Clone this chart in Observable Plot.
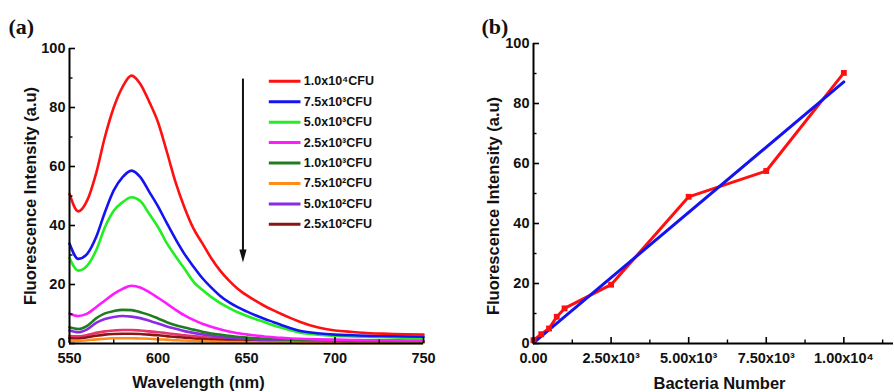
<!DOCTYPE html>
<html><head><meta charset="utf-8">
<script src="https://cdn.jsdelivr.net/npm/d3@7"></script>
<script src="https://cdn.jsdelivr.net/npm/@observablehq/plot@0.6"></script>
<style>
html,body{margin:0;padding:0;background:#fff;}
#wrap{position:relative;width:894px;height:392px;overflow:hidden;background:#fff;}
#wrap svg{position:absolute;top:0;overflow:visible;}
</style></head>
<body><div id="wrap"></div>
<script>
// ---------- Panel (a): spectra ----------
const wavelength = [550,555,560,565,570,575,580,585,590,595,600,605,610,615,620,625,630,635,640,645,650,655,660,665,670,675,680,690,700,710,720,730,740,750];
const cfu1e4  = [50.7,44.8,48.5,57.6,70,80,87,90.8,88,82,75,65,54.5,46,39,34,29,24.8,21.4,18.6,16.4,14.5,12.8,11.3,9.9,8.6,7.4,5.5,4.4,3.9,3.5,3.3,3.1,3];
const cfu75e3 = [33.9,28.7,30.4,36,44.5,51.9,56.4,58.6,56.4,51.5,46.5,40.8,35.3,30.3,26.1,22.2,19,16.2,14,12.3,10.9,9.6,8.4,7.3,6.2,5.2,4.3,3.5,3,2.8,2.6,2.5,2.4,2.3];
const cfu5e3  = [29,24.7,26.4,31.5,39.4,45,47.9,49.6,48.3,44,39.5,34,29.5,25.3,21,18.2,15.8,13.8,12.1,10.6,9.4,8.3,7.3,6.2,5.3,4.5,3.7,3,2.6,2.4,2.2,2.1,2,2];
const cfu25e3 = [10.1,9.3,10.1,12.3,14.6,16.8,18.5,19.6,19,17.4,15.5,13.5,11.4,9.5,8,6.7,5.7,4.8,4.1,3.5,3.1,2.7,2.4,2.1,1.9,1.7,1.6,1.4,1.3,1.2,1.1,1.1,1,1];
const cfu1e3  = [5.5,4.9,6,8.5,10.2,11,11.4,11.3,10.6,9.7,8.5,7.2,6.2,5.4,4.7,4,3.4,3,2.6,2.3,2,1.8,1.6,1.5,1.4,1.3,1.2,1.1,1,0.9,0.9,0.8,0.8,0.8];
const cfu75e2 = [0.9,0.9,1.1,1.4,1.6,1.8,1.8,1.8,1.7,1.6,1.4,1.3,1.1,1,0.9,0.8,0.7,0.6,0.5,0.5,0.4,0.4,0.3,0.3,0.3,0.3,0.2,0.2,0.2,0.2,0.2,0.2,0.2,0.2];
const cfu5e2  = [4.4,3.8,4.8,7,8.3,9,9.3,9.1,8.6,7.7,6.8,5.8,5,4.2,3.6,3.1,2.7,2.3,2,1.8,1.6,1.4,1.3,1.2,1.1,1,1,0.9,0.8,0.7,0.7,0.6,0.6,0.6];
const cfu25e2 = [1.8,1.7,2.1,2.6,3,3.2,3.3,3.3,3.2,3,2.8,2.5,2.2,2,1.7,1.5,1.3,1.2,1.1,1,0.9,0.8,0.8,0.7,0.7,0.6,0.6,0.5,0.5,0.4,0.4,0.4,0.4,0.4];
const unlabeledCurve = [2.5,2.4,2.9,3.6,4.1,4.4,4.6,4.6,4.4,4.1,3.8,3.5,3.1,2.8,2.5,2.2,1.9,1.7,1.5,1.3,1.2,1.1,1,0.9,0.9,0.8,0.8,0.7,0.6,0.6,0.5,0.5,0.5,0.5];

const seriesLabels = ["1.0x10⁴CFU","7.5x10³CFU","5.0x10³CFU","2.5x10³CFU","1.0x10³CFU","7.5x10²CFU","5.0x10²CFU","2.5x10²CFU"];
const seriesValues = [cfu1e4, cfu75e3, cfu5e3, cfu25e3, cfu1e3, cfu75e2, cfu5e2, cfu25e2];
const seriesColors = ["#ff1010","#1414f0","#22ee22","#ff1aff","#1f7d1f","#ff8c1a","#8c2be6","#8b1414"];
const unlabeledColor = "#e8336b";

const wlTicks = [550,600,650,700,750];
const wlMinor = [575,625,675,725];
const yTicks = [0,20,40,60,80,100];
const yMinor = [10,30,50,70,90];

// ---------- Panel (b): calibration ----------
const bacteria = [0,250,500,750,1000,2500,5000,7500,10000];
const intensity = [1.1,3.1,5.0,8.9,11.7,19.6,48.9,57.5,90.2];
const fitBacteria = [0,10000];
const fitIntensity = [0.2,87.2];
const bTicks = [0,2500,5000,7500,10000];
const bTickLabels = ["0.00","2.50x10³","5.00x10³","7.50x10³","1.00x10⁴"];
const bMinor = [1250,3750,6250,8750,11250];

// ---------- shared style ----------
const FONT = "'Liberation Sans', Arial, Helvetica, sans-serif";
const SERIF = "'Liberation Serif', 'Times New Roman', serif";
const tickFont = {fontSize: 14.5, fontWeight: "bold", fontFamily: FONT, fill: "#111"};
const titleFont = {fontSize: 16.5, fontWeight: "bold", fontFamily: FONT, fill: "#111", lineAnchor: "middle", textAnchor: "middle"};
const panelFont = {fontSize: 22, fontWeight: "bold", fontFamily: SERIF, fill: "#111", lineAnchor: "middle", textAnchor: "start"};

function toRows(xs, ys) { return xs.map((x, i) => ({x, y: ys[i]})); }

// ---------- Left plot ----------
const L = {w: 450, h: 392, ml: 69, mr: 27, mt: 48, mb: 49};
const LfW = L.w - L.ml - L.mr, LfH = L.h - L.mt - L.mb;

const legendRows = seriesLabels.map((label, i) => ({label, color: seriesColors[i], y: 88.9 - i * 6.93}));
const arrowHead = {draw(ctx) { ctx.moveTo(0, 0); ctx.lineTo(-3.6, -13); ctx.lineTo(3.6, -13); ctx.closePath(); }};

const leftMarks = [
  Plot.axisY({ticks: yTicks, tickSize: 0, tickPadding: 4, label: null, ...tickFont}),
  Plot.axisX({ticks: wlTicks, tickSize: 0, tickPadding: 9, label: null, ...tickFont}),
  Plot.line(toRows(wavelength, unlabeledCurve), {x: "x", y: "y", stroke: unlabeledColor, strokeWidth: 2.6, curve: "monotone-x"})
];
for (let i = seriesValues.length - 1; i >= 0; i--) {
  leftMarks.push(Plot.line(toRows(wavelength, seriesValues[i]), {x: "x", y: "y", stroke: seriesColors[i], strokeWidth: 2.6, curve: "monotone-x"}));
}
leftMarks.push(
  Plot.ruleY(yTicks, {strokeWidth: 1.6, insetRight: LfW - 6}),
  Plot.ruleY(yMinor, {strokeWidth: 1.4, insetRight: LfW - 3.5}),
  Plot.ruleX(wlTicks, {strokeWidth: 1.6, insetTop: LfH - 6}),
  Plot.ruleX(wlMinor, {strokeWidth: 1.4, insetTop: LfH - 3.5}),
  Plot.ruleX([550], {strokeWidth: 2}),
  Plot.ruleY([0], {strokeWidth: 2}),
  // legend
  Plot.link(legendRows, {x1: 662.6, x2: 680.5, y1: "y", y2: "y", stroke: "color", strokeWidth: 3}),
  Plot.text(legendRows, {x: 682.4, y: "y", text: "label", textAnchor: "start", fontSize: 12.5, fontWeight: "bold", fontFamily: FONT, fill: "#111"}),
  // arrow
  Plot.link([{x: 648, y1: 89.8, y2: 31}], {x1: "x", x2: "x", y1: "y1", y2: "y2", stroke: "#111", strokeWidth: 2}),
  Plot.dot([{x: 648, y: 27.5}], {x: "x", y: "y", symbol: arrowHead, r: 4, fill: "#111", stroke: null}),
  // titles
  Plot.text(["Fluorescence Intensity (a.u)"], {text: d => d, frameAnchor: "left", dx: -39, rotate: -90, ...titleFont}),
  Plot.text(["Wavelength (nm)"], {text: d => d, frameAnchor: "bottom", dx: -48, dy: 39, ...titleFont}),
  Plot.text(["(a)"], {text: d => d, frameAnchor: "top-left", dx: -61, dy: -22, ...panelFont})
);

const leftPlot = Plot.plot({
  width: L.w, height: L.h,
  marginLeft: L.ml, marginRight: L.mr, marginTop: L.mt, marginBottom: L.mb,
  x: {domain: [550, 750]},
  y: {domain: [0, 100]},
  style: {fontFamily: FONT, background: "transparent", overflow: "visible"},
  marks: leftMarks
});

// ---------- Right plot ----------
const R = {w: 454, h: 392, ml: 93, mr: 1, mt: 43, mb: 49};
const RfW = R.w - R.ml - R.mr, RfH = R.h - R.mt - R.mb;
const rightPlot = Plot.plot({
  width: R.w, height: R.h,
  marginLeft: R.ml, marginRight: R.mr, marginTop: R.mt, marginBottom: R.mb,
  x: {domain: [0, 11600]},
  y: {domain: [0, 100]},
  style: {fontFamily: FONT, background: "transparent", overflow: "visible"},
  marks: [
    Plot.axisY({ticks: yTicks, tickSize: 0, tickPadding: 4, label: null, ...tickFont}),
    Plot.axisX({ticks: bTicks, tickFormat: d => bTickLabels[bTicks.indexOf(d)], tickSize: 0, tickPadding: 9, label: null, ...tickFont}),
    Plot.line(toRows(bacteria, intensity), {x: "x", y: "y", stroke: "#ff1010", strokeWidth: 3}),
    Plot.line(toRows(fitBacteria, fitIntensity), {x: "x", y: "y", stroke: "#1414f0", strokeWidth: 3}),
    Plot.dot(toRows(bacteria, intensity), {x: "x", y: "y", symbol: "square", r: 3.3, fill: "#ff1010", stroke: null}),
    Plot.ruleY(yTicks, {strokeWidth: 1.6, insetRight: RfW - 6}),
    Plot.ruleY(yMinor, {strokeWidth: 1.4, insetRight: RfW - 3.5}),
    Plot.ruleX(bTicks, {strokeWidth: 1.6, insetTop: RfH - 6}),
    Plot.ruleX(bMinor, {strokeWidth: 1.4, insetTop: RfH - 3.5}),
    Plot.ruleX([0], {strokeWidth: 2}),
    Plot.ruleY([0], {strokeWidth: 2}),
    Plot.text(["Fluorescence Intensity (a.u)"], {text: d => d, frameAnchor: "left", dx: -40, dy: 12.5, rotate: -90, ...titleFont}),
    Plot.text(["Bacteria Number"], {text: d => d, frameAnchor: "bottom", dx: 6, dy: 40, ...titleFont}),
    Plot.text(["(b)"], {text: d => d, frameAnchor: "top-left", dx: -52, dy: -17, ...panelFont})
  ]
});

const wrap = document.getElementById("wrap");
leftPlot.style.left = "0px";
rightPlot.style.left = "440px";
wrap.appendChild(leftPlot);
wrap.appendChild(rightPlot);
</script>
</body></html>
